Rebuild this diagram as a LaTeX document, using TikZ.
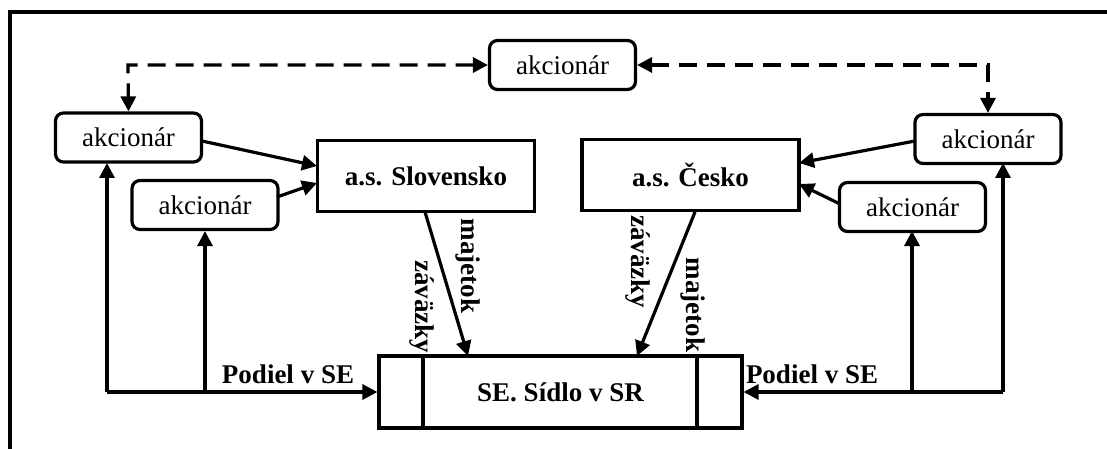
\documentclass[tikz,border=0pt]{standalone}
\usepackage{fontspec}
\setmainfont{Liberation Serif}
\usetikzlibrary{arrows.meta}
\begin{document}
\begin{tikzpicture}[x=1pt,y=-1pt,
  font=\fontsize{27}{31}\selectfont,
  akc/.style={draw,line width=3.2pt,rounded corners=8pt,minimum width=146pt,minimum height=49pt,inner sep=0pt},
  firm/.style={draw,line width=3.2pt,minimum width=217pt,minimum height=71pt,inner sep=0pt,font=\fontsize{27}{31}\selectfont\bfseries},
  conn/.style={line width=3.2pt,-{Triangle[length=15pt,width=15pt]}},
  dconn/.style={line width=3.2pt,dash pattern=on 18pt off 10pt,{Triangle[length=15pt,width=15pt]}-{Triangle[length=15pt,width=15pt]}},
  lbl/.style={font=\fontsize{27}{31}\selectfont\bfseries,inner sep=0pt},
  vlbl/.style={lbl,rotate=-90}]
\useasboundingbox (0,0) rectangle (1107,449);

% open frame: top and left edges only
\draw[line width=3.5pt] (1107,12) -- (10,12) -- (10,449);

% shareholders
\node[akc] (top) at (562.5,65) {akcionár};
\node[akc] (a1) at (128.5,137.5) {akcionár};
\node[akc] (a2) at (205,205) {akcionár};
\node[akc] (b1) at (988,139) {akcionár};
\node[akc] (b2) at (912.5,207) {\raisebox{-5pt}{akcionár}};

% companies
\node[firm] (sk) at (426,176) {a.s. Slovensko};
\node[firm] (cz) at (690.5,175) {a.s. Česko};

% the SE with side panels
\node[draw,line width=3.2pt,minimum width=363pt,minimum height=72pt,inner sep=0pt,font=\fontsize{27}{31}\selectfont\bfseries] (se) at (560.5,392) {SE. Sídlo v SR};
\draw[line width=3.2pt] (423,356) -- (423,428);
\draw[line width=3.2pt] (697,356) -- (697,428);

% dashed links between shareholders
\coordinate (dl) at (128,65);
\coordinate (dr) at (988,65);
\draw[dconn] (top.west) -- (dl) -- (a1.north);
\draw[dconn] (top.east) -- (dr) -- (b1.north);

% shareholders into the companies
\draw[conn] (202,141) -- (317,166);
\draw[conn] (277,197) -- (317,183);
\draw[conn] (915,141) -- (799,163);
\draw[conn] (840,204) -- (799,184);

% transfers into the SE
\draw[conn] (425,212) -- (468,356);
\draw[conn] (695,212) -- (637,356);
\node[vlbl] at (468,266) {majetok};
\node[vlbl] at (422,307) {záväzky};
\node[vlbl] at (638,262) {záväzky};
\node[vlbl] at (693,305) {majetok};

% shares in the SE, left side
\coordinate (lc) at (107,392);
\coordinate (lm) at (205,392);
\draw[conn] (lc) -- (se.west);
\draw[conn] (lc) -- (107,163);
\draw[conn] (lm) -- (a2.south);
\node[lbl] at (288,374) {Podiel v SE};

% shares in the SE, right side
\coordinate (rc) at (1003,392);
\coordinate (rm) at (912,392);
\draw[conn] (rc) -- (se.east);
\draw[conn] (rc) -- (1003,163);
\draw[conn] (rm) -- (912,231);
\node[lbl] at (812,374) {Podiel v SE};
\end{tikzpicture}
\end{document}
